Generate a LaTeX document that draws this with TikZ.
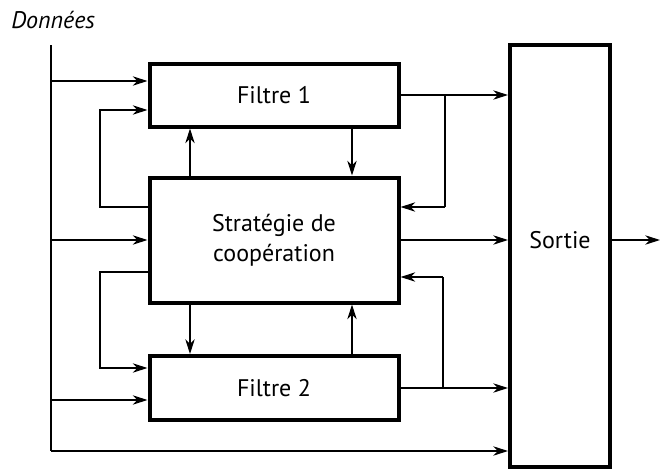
\documentclass[tikz,border=0pt]{standalone}
\usepackage{fontspec}
\setmainfont{PT Sans}
\usetikzlibrary{arrows.meta}
\begin{document}
\begin{tikzpicture}[x=0.75pt,y=-0.75pt,
  box/.style={draw,line width=3pt,inner sep=0pt,font=\fontsize{18}{22.5}\selectfont,align=center},
  lbl/.style={inner sep=0pt,font=\fontsize{18}{22.5}\selectfont},
  conn/.style={line width=1pt},
  arr/.style={conn,-{Stealth[length=11pt,width=7pt,inset=3.5pt]}}]
\useasboundingbox (0,0) rectangle (660,468);
\node[box,minimum width=186.75pt,minimum height=47.25pt] (f1) at (274,95) {Filtre 1};
\node[box,minimum width=186.75pt,minimum height=93.75pt] (strat) at (274,240) {Stratégie de\\coopération};
\node[box,minimum width=186.75pt,minimum height=48pt] (f2) at (274,388) {Filtre 2};
\node[box,minimum width=75pt,minimum height=316.5pt] (sortie) at (560,256) {};
\node[lbl] (sortielbl) at (560,240) {Sortie};
\node[anchor=base west,inner sep=0pt,font=\fontsize{18}{22}\selectfont\itshape] (donnees) at (11,28) {Données};
% data line
\coordinate (dtop) at (51,45);
\coordinate (dbot) at (51,451);
\coordinate (d1) at (51,81);
\coordinate (d2) at (51,240);
\coordinate (d3) at (51,400);
\draw[conn] (dtop) -- (dbot);
\draw[arr] (dbot) -- (dbot -| sortie.west);
\draw[arr] (d1) -- (d1 -| f1.west);
\draw[arr] (d2) -- (d2 -| strat.west);
\draw[arr] (d3) -- (d3 -| f2.west);
% left feedback loops
\coordinate (la) at (100,207);
\coordinate (lb) at (100,110);
\coordinate (lc) at (100,272);
\coordinate (ld) at (100,368);
\draw[arr] (la -| strat.west) -- (la) -- (lb) -- (lb -| f1.west);
\draw[arr] (lc -| strat.west) -- (lc) -- (ld) -- (ld -| f2.west);
% vertical arrows
\coordinate (vl) at (190,0);
\coordinate (vr) at (352,0);
\draw[arr] (vl |- strat.north) -- (vl |- f1.south);
\draw[arr] (vr |- f1.south) -- (vr |- strat.north);
\draw[arr] (vl |- strat.south) -- (vl |- f2.north);
\draw[arr] (vr |- f2.north) -- (vr |- strat.south);
% right side
\coordinate (ra) at (445,95);
\coordinate (rb) at (445,207);
\coordinate (rc) at (443,388);
\coordinate (rd) at (443,277);
\draw[arr] (f1.east) -- (f1.east -| sortie.west);
\draw[conn] (ra) -- (rb);
\draw[arr] (rb) -- (rb -| strat.east);
\draw[arr] (strat.east) -- (strat.east -| sortie.west);
\draw[arr] (f2.east) -- (f2.east -| sortie.west);
\draw[conn] (rc) -- (rd);
\draw[arr] (rd) -- (rd -| strat.east);
\coordinate (out) at (660,240);
\draw[arr] (out -| sortie.east) -- (out);
\end{tikzpicture}
\end{document}
